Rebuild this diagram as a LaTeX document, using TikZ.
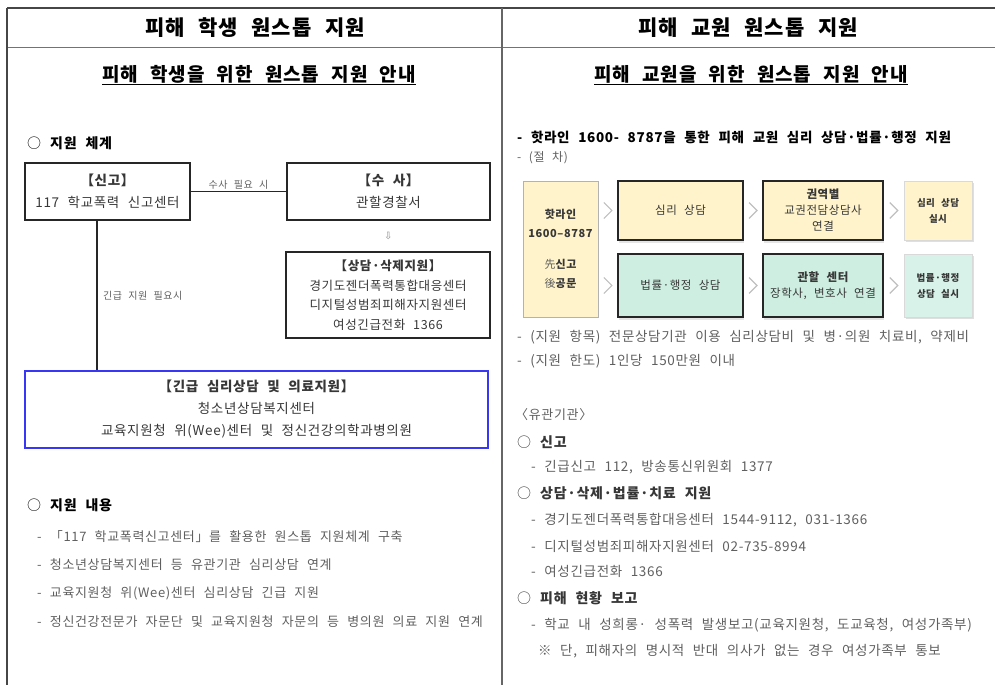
\documentclass[tikz,border=0pt]{standalone}
\usepackage{fontspec}
\setmainfont[WordSpace=2.3, LetterSpace=5]{Noto Sans CJK KR}
\newfontfamily\symfont{DejaVu Sans}
\usetikzlibrary{calc,shadows}

\definecolor{rulegray}{RGB}{70,70,70}
\definecolor{textgray}{RGB}{95,95,95}
\definecolor{boxtext}{RGB}{55,55,55}
\definecolor{urgentblue}{RGB}{55,55,245}
\definecolor{paleyellow}{RGB}{255,243,203}
\definecolor{palemint}{RGB}{205,238,224}
\definecolor{palemintlight}{RGB}{216,241,233}

\begin{document}
\begin{tikzpicture}[x=1pt, y=-1pt,
	headtext/.style={font=\fontsize{21}{24}\selectfont\bfseries},
	subtext/.style={font=\fontsize{19}{22}\selectfont\bfseries},
	sectext/.style={anchor=west, inner sep=0pt, font=\fontsize{14}{16}\selectfont\bfseries},
	itemtext/.style={anchor=west, inner sep=0pt, text=textgray, font=\fontsize{13}{16}\selectfont},
	notetext/.style={text=textgray, inner sep=1pt, font=\fontsize{10}{11}\selectfont},
	rulestroke/.style={draw=rulegray, line width=1.4pt},
	connector/.style={draw=black!85, line width=1.2pt},
	infobox/.style={draw=black!85, line width=1.5pt, align=center, inner sep=0pt, text=boxtext, font=\fontsize{13.5}{22}\selectfont},
	stepbox/.style={draw=black!85, line width=1.6pt, align=center, inner sep=0pt, text=boxtext, font=\fontsize{11.5}{16}\selectfont, drop shadow={shadow xshift=1pt, shadow yshift=-3pt, fill=black!20}},
	endbox/.style={draw=black!15, line width=0.6pt, align=center, inner sep=0pt, text=boxtext, font=\fontsize{9.5}{16}\selectfont\bfseries, drop shadow={shadow xshift=1.5pt, shadow yshift=-1.5pt, fill=black!25}},
	chevstroke/.style={draw=black!25, line width=1.1pt}
]
\useasboundingbox (0,0) rectangle (995,685);

%Table rules
\draw[rulestroke, line width=2pt] (7,8) -- (995,8);
\draw[rulestroke, draw=black!55] (7,47.5) -- (995,47.5);
\draw[rulestroke] (7,8) -- (7,685);
\draw[rulestroke, draw=black!60] (502,8) -- (502,685);

%Headers
\node[headtext] (head_s) at (255,28) {피해 학생 원스톱 지원};
\node[headtext] (head_t) at (748,28) {피해 교원 원스톱 지원};

\node[subtext] (sub_s) at (259,75) {\underline{피해 학생을 위한 원스톱 지원 안내}};
\node[subtext] (sub_t) at (751,75) {\underline{피해 교원을 위한 원스톱 지원 안내}};

%Left column: support system
\node[sectext] (sys_s) at (27,143) {{\mdseries ○} 지원 체계};

\begin{scope}[every node/.append style={infobox}]
	\node[minimum width=165, minimum height=57] (report) at (107.5,191.5) {{\bfseries 【신고】}\\117 학교폭력 신고센터};
	\node[minimum width=203, minimum height=57] (police) at (388.5,191.5) {{\bfseries 【수 사】}\\관할경찰서};
	\node[minimum width=204, minimum height=86, font=\fontsize{12.5}{19.5}\selectfont] (counsel) at (388,295) {{\bfseries 【상담·삭제지원】}\\경기도젠더폭력통합대응센터\\디지털성범죄피해자지원센터\\여성긴급전화 1366};
	\node[minimum width=463, minimum height=77, draw=urgentblue] (urgent) at (256.5,409.5) {{\bfseries 【긴급 심리상담 및 의료지원】}\\청소년상담복지센터\\교육지원청 위(Wee)센터 및 정신건강의학과병의원};
\end{scope}

\coordinate (drop) at (97,0);
\node[text=black!45, font=\symfont\fontsize{10}{12}\selectfont] (down) at ($(police.south)!0.5!(counsel.north)$) {⇩};

\path[connector] (report) edge node[notetext, above=1pt] (need_police) {수사 필요 시} (police);
\path[connector] (report.south -| drop) edge (urgent.north -| drop);
\node[notetext, anchor=west] (need_urgent) at (102,296) {긴급 지원 필요시};

%Left column: support contents
\node[sectext] (cont_s) at (27,505) {{\mdseries ○} 지원 내용};
\node[itemtext] (item_s1) at (37,537) {-\ 「117 학교폭력신고센터」를 활용한 원스톱 지원체계 구축};
\node[itemtext] (item_s2) at (37,565) {-\ 청소년상담복지센터 등 유관기관 심리상담 연계};
\node[itemtext] (item_s3) at (37,593) {-\ 교육지원청 위(Wee)센터 심리상담 긴급 지원};
\node[itemtext] (item_s4) at (37,622) {-\ 정신건강전문가 자문단 및 교육지원청 자문의 등 병의원 의료 지원 연계};

%Right column: hotline
\node[sectext, font=\fontsize{13.5}{16}\selectfont\bfseries] (hot_t) at (517,137) {-\ 핫라인 1600- 8787을 통한 피해 교원 심리 상담·법률·행정 지원};
\node[itemtext, font=\fontsize{12}{15}\selectfont] (proc_t) at (517,158) {-\ (절 차)};

%Right column: procedure
\node[draw=black!30, line width=0.8pt, fill=paleyellow, minimum width=75, minimum height=136, inner sep=0pt, align=center, text=boxtext, font=\fontsize{11}{19}\selectfont\bfseries] (hot) at (560.5,249) {핫라인\\1600--8787\\[12pt]{\mdseries\color{textgray}先}신고\\{\mdseries\color{textgray}後}공문};

\node[stepbox, fill=paleyellow, minimum width=125, minimum height=59] (psy) at (680.5,210.5) {심리 상담};
\node[stepbox, fill=palemint, minimum width=125, minimum height=63] (law) at (680.5,285.5) {법률·행정 상담};
\node[stepbox, fill=paleyellow, minimum width=120, minimum height=59] (region) at (823,210.5) {{\bfseries 권역별}\\교권전담상담사\\연결};
\node[stepbox, fill=palemint, minimum width=120, minimum height=63] (center) at (823,285.5) {{\bfseries 관할 센터}\\장학사, 변호사 연결};
\node[endbox, fill=paleyellow, minimum width=68, minimum height=59] (psy_done) at (938,210.5) {심리 상담\\실시};
\node[endbox, fill=palemintlight, minimum width=68, minimum height=63] (law_done) at (938,285.5) {법률·행정\\상담 실시};

\draw[chevstroke] ($(hot.east |- psy.west)!0.5!(psy.west)$) +(-4,-8) -- +(4,0) -- +(-4,8);
\draw[chevstroke] ($(hot.east |- law.west)!0.5!(law.west)$) +(-4,-8) -- +(4,0) -- +(-4,8);
\draw[chevstroke] ($(psy.east)!0.5!(region.west)$) +(-4,-8) -- +(4,0) -- +(-4,8);
\draw[chevstroke] ($(law.east)!0.5!(center.west)$) +(-4,-8) -- +(4,0) -- +(-4,8);
\draw[chevstroke] ($(region.east)!0.5!(psy_done.west)$) +(-4,-8) -- +(4,0) -- +(-4,8);
\draw[chevstroke] ($(center.east)!0.5!(law_done.west)$) +(-4,-8) -- +(4,0) -- +(-4,8);

\node[itemtext, font=\fontsize{13.5}{16}\selectfont] (scope_t) at (517,337) {-\ (지원 항목) 전문상담기관 이용 심리상담비 및 병·의원 치료비, 약제비};
\node[itemtext, font=\fontsize{13.5}{16}\selectfont] (limit_t) at (517,361) {-\ (지원 한도) 1인당 150만원 이내};

%Right column: related agencies
\node[itemtext] (agency_t) at (515,415) {〈유관기관〉};
\node[itemtext, text=boxtext, font=\fontsize{14}{16}\selectfont\bfseries] (call_t) at (517,442) {{\mdseries ○} 신고};
\node[itemtext, font=\fontsize{13.5}{16}\selectfont] (call_t1) at (531,467) {-\ 긴급신고 112, 방송통신위원회 1377};
\node[itemtext, text=boxtext, font=\fontsize{14}{16}\selectfont\bfseries] (aid_t) at (517,493) {{\mdseries ○} 상담·삭제·법률·치료 지원};
\node[itemtext, font=\fontsize{13.5}{16}\selectfont] (aid_t1) at (531,520) {-\ 경기도젠더폭력통합대응센터 1544-9112, 031-1366};
\node[itemtext, font=\fontsize{13.5}{16}\selectfont] (aid_t2) at (531,546) {-\ 디지털성범죄피해자지원센터 02-735-8994};
\node[itemtext, font=\fontsize{13.5}{16}\selectfont] (aid_t3) at (531,571) {-\ 여성긴급전화 1366};
\node[itemtext, text=boxtext, font=\fontsize{14}{16}\selectfont\bfseries] (rep_t) at (517,598) {{\mdseries ○} 피해 현황 보고};
\node[itemtext, font=\fontsize{13.5}{16}\selectfont] (rep_t1) at (531,625) {-\ 학교 내 성희롱· 성폭력 발생보고(교육지원청, 도교육청, 여성가족부)};
\node[itemtext, font=\fontsize{13.5}{16}\selectfont] (rep_t2) at (538,651) {※ 단, 피해자의 명시적 반대 의사가 없는 경우 여성가족부 통보};

\end{tikzpicture}
\end{document}
